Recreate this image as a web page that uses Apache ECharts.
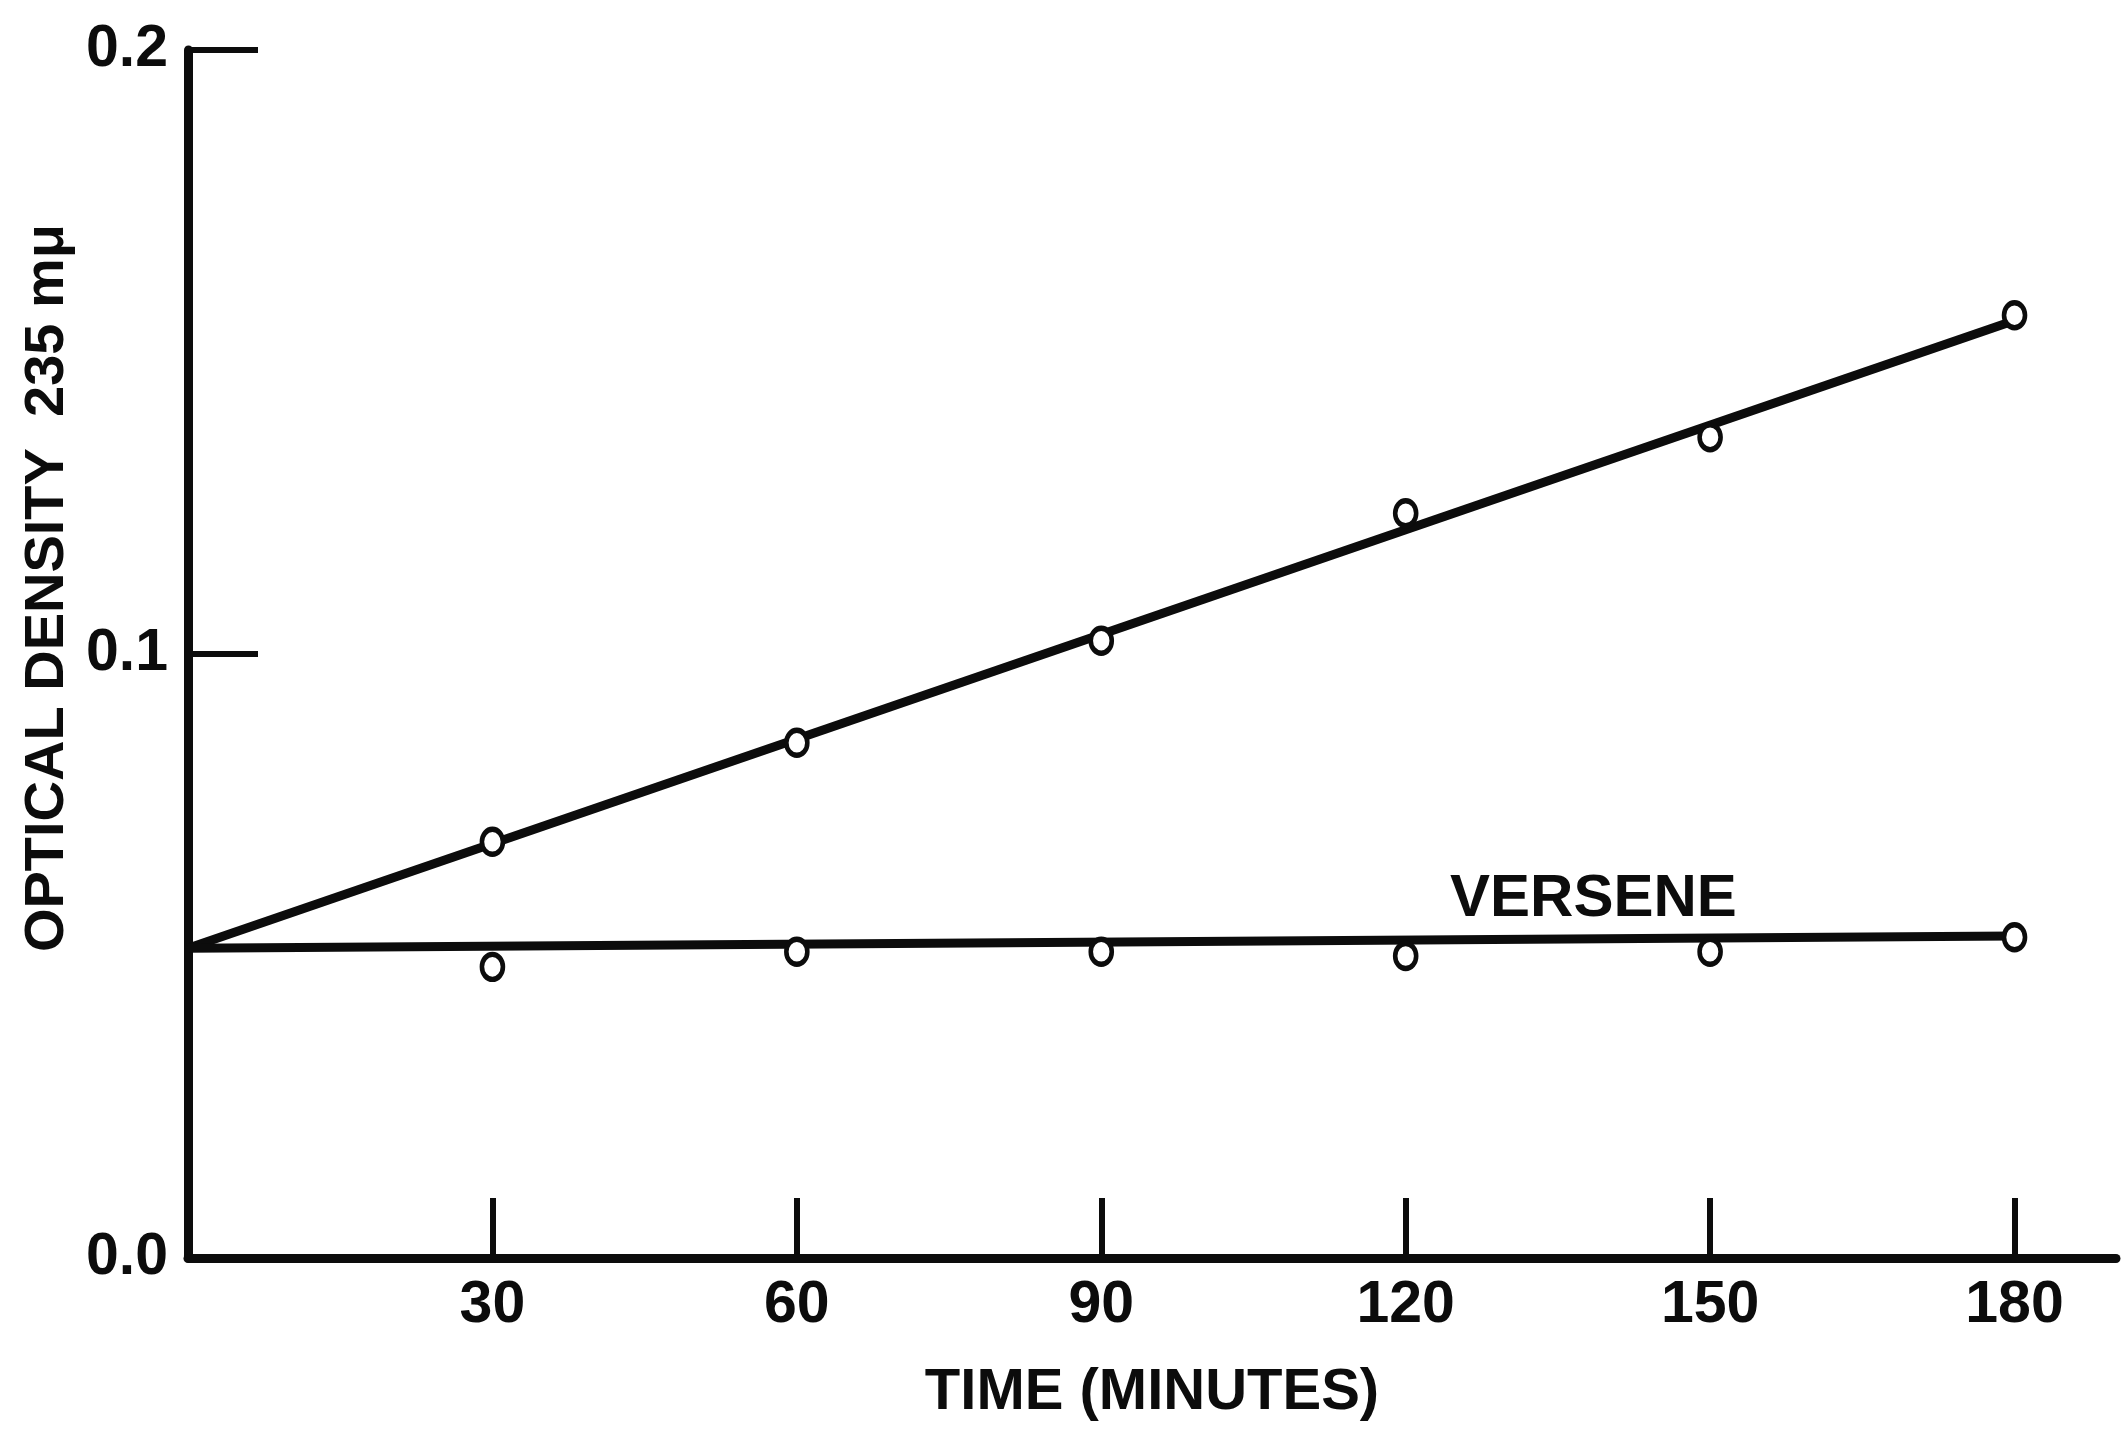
<!DOCTYPE html>
<html>
<head>
<meta charset="utf-8">
<script src="https://cdn.jsdelivr.net/npm/echarts@6/dist/echarts.min.js"></script>
<style>
html,body{margin:0;padding:0;background:#fff;}
#chart{width:2121px;height:1429px;}
</style>
</head>
<body>
<div id="chart"></div>
<script>
// ---- data ----
var times = [30, 60, 90, 120, 150, 180];
var controlOD = [0.0689, 0.0853, 0.1022, 0.1233, 0.1359, 0.1561];
var verseneOD = [0.0482, 0.0507, 0.0507, 0.0500, 0.0507, 0.0531];
var controlFitX = [0, 180];
var controlFitY = [0.0513, 0.1552];
var verseneFitX = [0, 180];
var verseneFitY = [0.0513, 0.0533];
var verseneLabelX = [138.5];
var verseneLabelY = [0.0594];
var xTicks = [30, 60, 90, 120, 150, 180];
var xTickLabels = ['30', '60', '90', '120', '150', '180'];
var yTicks = [0, 0.1, 0.2];
var yTickLabels = ['0.0', '0.1', '0.2'];
var xTitle = 'TIME (MINUTES)';
var yTitle = 'OPTICAL DENSITY  235 mμ';
var annot = 'VERSENE';

var FONT = "'Liberation Sans', Arial, sans-serif";
var INK = '#0c0c0c';

function pairs(xs, ys) { return xs.map(function (x, i) { return [x, ys[i]]; }); }

var chart = echarts.init(document.getElementById('chart'), null, {renderer: 'canvas'});
var markerStyle = {color: '#fff', borderColor: INK, borderWidth: 5, opacity: 1};

chart.setOption({
  backgroundColor: '#ffffff',
  animation: false,
  grid: {left: 188, right: 5, top: 50, bottom: 171, containLabel: false},
  xAxis: {
    type: 'value', min: 0, max: 190, interval: 30,
    name: xTitle, nameLocation: 'middle', nameGap: 106,
    nameTextStyle: {fontFamily: FONT, fontSize: 58, fontWeight: 'bold', color: INK},
    axisLine: {show: true, onZero: false, lineStyle: {color: INK, width: 9}},
    axisTick: {show: true, inside: true, length: 60, customValues: xTicks, lineStyle: {color: INK, width: 6}},
    axisLabel: {show: true, margin: 18, customValues: xTicks, fontFamily: FONT, fontSize: 59, fontWeight: 'bold', color: INK,
      formatter: function (v) { var i = xTicks.indexOf(v); return i >= 0 ? xTickLabels[i] : ''; }},
    splitLine: {show: false}
  },
  yAxis: {
    type: 'value', min: 0, max: 0.2, interval: 0.1,
    axisLine: {show: true, onZero: false, lineStyle: {color: INK, width: 9}},
    axisTick: {show: true, inside: true, length: 70, customValues: yTicks, lineStyle: {color: INK, width: 6}},
    axisLabel: {show: true, margin: 20, customValues: yTicks, fontFamily: FONT, fontSize: 59, fontWeight: 'bold', color: INK,
      formatter: function (v) { for (var i = 0; i < yTicks.length; i++) { if (Math.abs(yTicks[i] - v) < 1e-9) return yTickLabels[i]; } return ''; }},
    splitLine: {show: false}
  },
  graphic: [{
    type: 'text', x: 48, y: 588,
    rotation: Math.PI / 2,
    style: {text: yTitle, fontFamily: FONT, fontSize: 56, fontWeight: 'bold', fill: INK, align: 'center', verticalAlign: 'middle'}
  }],
  series: [
    {type: 'line', data: pairs(controlFitX, controlFitY), symbol: 'none', lineStyle: {color: INK, width: 9}, z: 2},
    {type: 'line', data: pairs(verseneFitX, verseneFitY), symbol: 'none', lineStyle: {color: INK, width: 9}, z: 2},
    {type: 'scatter', data: pairs(times, controlOD), symbol: 'circle', symbolSize: [21, 25], itemStyle: markerStyle, z: 5},
    {type: 'scatter', data: pairs(times, verseneOD), symbol: 'circle', symbolSize: [21, 25], itemStyle: markerStyle, z: 5},
    {type: 'scatter', data: pairs(verseneLabelX, verseneLabelY), symbolSize: 0, z: 6, itemStyle: {opacity: 1},
      label: {show: true, position: 'inside', formatter: annot, fontFamily: FONT, fontSize: 60, fontWeight: 'bold', color: INK, opacity: 1}}
  ]
});
</script>
</body>
</html>
